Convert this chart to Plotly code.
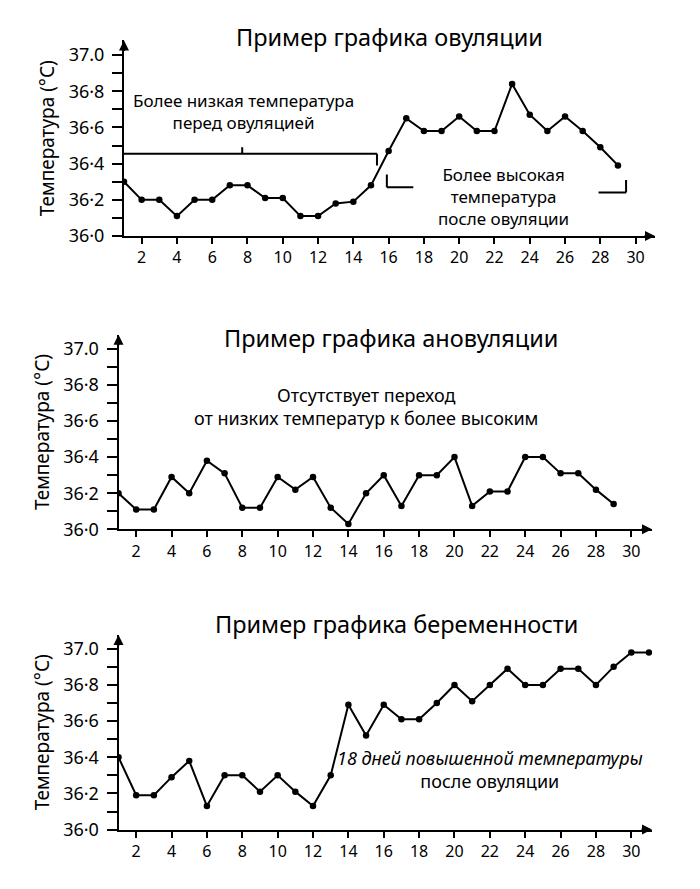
import plotly.graph_objects as go

# ---- data ----
days_ovulation = list(range(1, 30))
temps_ovulation = [36.30, 36.20, 36.20, 36.11, 36.20, 36.20, 36.28, 36.28, 36.21, 36.21,
                   36.11, 36.11, 36.18, 36.19, 36.28, 36.47, 36.65, 36.58, 36.58, 36.66,
                   36.58, 36.58, 36.84, 36.67, 36.58, 36.66, 36.58, 36.49, 36.39]

days_anovulation = list(range(1, 30))
temps_anovulation = [36.20, 36.11, 36.11, 36.29, 36.20, 36.38, 36.31, 36.12, 36.12, 36.29,
                     36.22, 36.29, 36.12, 36.03, 36.20, 36.30, 36.13, 36.30, 36.30, 36.40,
                     36.13, 36.21, 36.21, 36.40, 36.40, 36.31, 36.31, 36.22, 36.14]

days_pregnancy = list(range(1, 32))
temps_pregnancy = [36.40, 36.19, 36.19, 36.29, 36.38, 36.13, 36.30, 36.30, 36.21, 36.30,
                   36.21, 36.13, 36.30, 36.69, 36.52, 36.69, 36.61, 36.61, 36.70, 36.80,
                   36.71, 36.80, 36.89, 36.80, 36.80, 36.89, 36.89, 36.80, 36.90, 36.98,
                   36.98]

titles = ["Пример графика овуляции", "Пример графика ановуляции", "Пример графика беременности"]
y_title = "Температура (°C)"
x_tickvals = list(range(2, 31, 2))
y_tickvals = [36.0, 36.1, 36.2, 36.3, 36.4, 36.5, 36.6, 36.7, 36.8, 36.9, 37.0]
y_ticktext = ["36·0", "", "36·2", "", "36·4", "", "36·6", "", "36·8", "", "37.0"]

FONT = "Noto Sans"
W, H = 700, 889

def fy(p):
    return 1 - p / H

panels = [
    dict(days=days_ovulation, temps=temps_ovulation, xdom=[124 / W, 655 / W], ydom=[fy(239), fy(41)],
         xr=[1, 31.1], yr=[36.0, 37.08], title_y=37, title_x=0.557),
    dict(days=days_anovulation, temps=temps_anovulation, xdom=[118.5 / W, 652 / W], ydom=[fy(536), fy(339)],
         xr=[1, 31.17], yr=[36.0, 37.077], title_y=342, title_x=0.558),
    dict(days=days_pregnancy, temps=temps_pregnancy, xdom=[118.5 / W, 652 / W], ydom=[fy(840), fy(643)],
         xr=[1, 31.17], yr=[36.0, 37.076], title_y=632, title_x=0.567),
]

fig = go.Figure()
annotations = []
shapes = []
layout = {}
for i, p in enumerate(panels, start=1):
    sx = "" if i == 1 else str(i)
    fig.add_trace(go.Scatter(
        x=p["days"], y=p["temps"], mode="lines+markers",
        line=dict(color="black", width=2),
        marker=dict(color="black", size=6.5),
        xaxis="x" + sx, yaxis="y" + sx, showlegend=False, hoverinfo="skip"))
    layout["xaxis" + sx] = dict(
        domain=p["xdom"], range=p["xr"], anchor="y" + sx,
        tickvals=x_tickvals, ticks="outside", ticklen=6, tickwidth=2, tickcolor="black",
        showline=True, linewidth=2, linecolor="black", showgrid=False, zeroline=False,
        tickfont=dict(family=FONT, size=16, color="black"))
    layout["yaxis" + sx] = dict(
        domain=p["ydom"], range=p["yr"], anchor="x" + sx,
        tickvals=y_tickvals, ticktext=y_ticktext, ticks="outside", ticklen=10, tickwidth=2,
        tickcolor="black", showline=True, linewidth=2, linecolor="black", showgrid=False,
        zeroline=False, tickfont=dict(family=FONT, size=18, color="black"),
        ticklabelstandoff=4,
        title=dict(text=y_title, font=dict(family=FONT, size=19, color="black"), standoff=9))
    # axis arrowheads
    annotations.append(dict(x=p["xr"][0], y=p["yr"][1], xref="x" + sx, yref="y" + sx,
                            ax=0, ay=12, axref="pixel", ayref="pixel", text="", showarrow=True,
                            arrowhead=2, arrowsize=1, arrowwidth=2, arrowcolor="black"))
    annotations.append(dict(x=p["xr"][1], y=p["yr"][0], xref="x" + sx, yref="y" + sx,
                            ax=-12, ay=0, axref="pixel", ayref="pixel", text="", showarrow=True,
                            arrowhead=2, arrowsize=1, arrowwidth=2, arrowcolor="black"))
    annotations.append(dict(x=p["title_x"], y=fy(p["title_y"]), xref="paper", yref="paper",
                            text=titles[i - 1], showarrow=False, yanchor="middle",
                            font=dict(family=FONT, size=23.5, color="black")))

# panel text notes
annotations.append(dict(x=7.8, y=36.69, xref="x", yref="y", showarrow=False,
                        text="Более низкая температура<br>перед овуляцией",
                        font=dict(family=FONT, size=17, color="black")))
annotations.append(dict(x=22.5, y=36.22, xref="x", yref="y", showarrow=False,
                        text="Более высокая<br>температура<br>после овуляции",
                        font=dict(family=FONT, size=17, color="black")))
annotations.append(dict(x=15.0, y=36.68, xref="x2", yref="y2", showarrow=False,
                        text="Отсутствует переход<br>от низких температур к более высоким",
                        font=dict(family=FONT, size=18, color="black")))
annotations.append(dict(x=22.0, y=36.33, xref="x3", yref="y3", showarrow=False,
                        text="<i>18 дней повышенной температуры</i><br>после овуляции",
                        font=dict(family=FONT, size=18, color="black")))

# brackets on first panel
bl = dict(color="black", width=2)
shapes += [
    dict(type="line", xref="x", yref="y", x0=1, x1=15.34, y0=36.454, y1=36.454, line=bl),
    dict(type="line", xref="x", yref="y", x0=15.34, x1=15.34, y0=36.454, y1=36.39, line=bl),
    dict(type="line", xref="x", yref="y", x0=7.7, x1=7.7, y0=36.454, y1=36.49, line=bl),
    dict(type="line", xref="x", yref="y", x0=15.9, x1=15.9, y0=36.34, y1=36.27, line=bl),
    dict(type="line", xref="x", yref="y", x0=15.9, x1=17.4, y0=36.27, y1=36.27, line=bl),
    dict(type="line", xref="x", yref="y", x0=29.46, x1=29.46, y0=36.31, y1=36.24, line=bl),
    dict(type="line", xref="x", yref="y", x0=27.9, x1=29.46, y0=36.24, y1=36.24, line=bl),
]

fig.update_layout(width=W, height=H, margin=dict(l=0, r=0, t=0, b=0),
                  paper_bgcolor="white", plot_bgcolor="white",
                  annotations=annotations, shapes=shapes, **layout)
fig.write_html("out.html", config={"displayModeBar": False},
               post_script="document.body.style.margin='0';")
